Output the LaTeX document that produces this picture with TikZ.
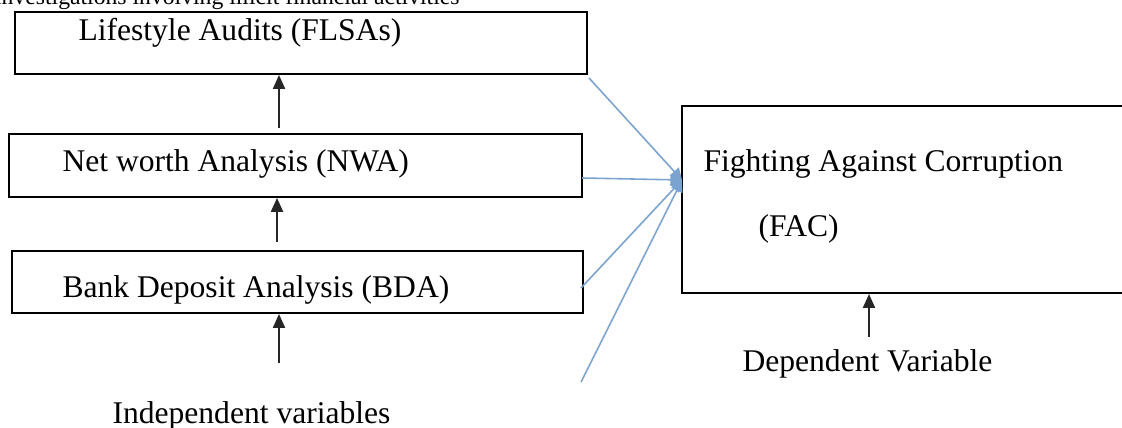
\documentclass[tikz,border=0pt]{standalone}
\usepackage{fontspec}
\setmainfont{Liberation Serif}
\usetikzlibrary{arrows.meta}
\definecolor{lsteel}{HTML}{7BA3D0}

\tikzset{
  varbox/.style={draw=black, line width=0.75pt, inner sep=0pt},
  vartext/.style={anchor=base west, inner sep=0pt, font=\fontsize{12}{14}\selectfont},
  uparrow/.style={draw=black!85, line width=0.7pt, -{Triangle[length=5.3pt,width=4.6pt]}},
  bluearrow/.style={draw=lsteel, line width=0.6pt, -{Triangle[length=4.4pt,width=4.6pt]}}
}

\begin{document}
\begin{tikzpicture}[x=0.38pt, y=-0.38pt]
    \useasboundingbox (0,0) rectangle (1122,428);
    \clip (0,0) rectangle (1122,428);
    % line cut off above the figure
    \node[vartext, anchor=base east, font=\fontsize{9}{11}\selectfont] (intro) at (460,5) {investigations involving illicit financial activities};
    % independent variables
    \node[varbox, minimum width=217.4pt, minimum height=23.6pt] (flsa) at (301,43) {};
    \node[varbox, minimum width=217.7pt, minimum height=23.9pt] (nwa) at (295.5,165.5) {};
    \node[varbox, minimum width=217.0pt, minimum height=23.6pt] (bda) at (297.5,282) {};
    \node[vartext] (flsatext) at (78,41) {Lifestyle Audits (FLSAs)};
    \node[vartext] (nwatext) at (62,172) {Net worth Analysis (NWA)};
    \node[vartext] (bdatext) at (62,298) {Bank Deposit Analysis (BDA)};
    \node[vartext] (indep) at (112,424) {Independent variables};
    % dependent variable
    \node[varbox, minimum width=170.2pt, minimum height=71.1pt] (fac) at (906,199.5) {};
    \node[vartext] (factext) at (703,172) {Fighting Against Corruption};
    \node[vartext] (facshort) at (758,237) {(FAC)};
    \node[vartext] (dep) at (742,372) {Dependent Variable};
    % arrow tails
    \coordinate (s1) at (279,128);
    \coordinate (s2) at (277,242);
    \coordinate (s3) at (279,363);
    \coordinate (s4) at (869,337);
    \coordinate (hub) at (682,180);
    \coordinate (b1) at (589,78);
    \coordinate (b2) at (582,178);
    \coordinate (b3) at (581,288);
    \coordinate (b4) at (581,382);
    \draw[uparrow] (s1) -- (s1 |- flsa.south);
    \draw[uparrow] (s2) -- (s2 |- nwa.south);
    \draw[uparrow] (s3) -- (s3 |- bda.south);
    \draw[uparrow] (s4) -- (s4 |- fac.south);
    \draw[bluearrow] (b1) -- (hub);
    \draw[bluearrow] (b2) -- (hub);
    \draw[bluearrow] (b3) -- (hub);
    \draw[bluearrow] (b4) -- (hub);
\end{tikzpicture}
\end{document}
